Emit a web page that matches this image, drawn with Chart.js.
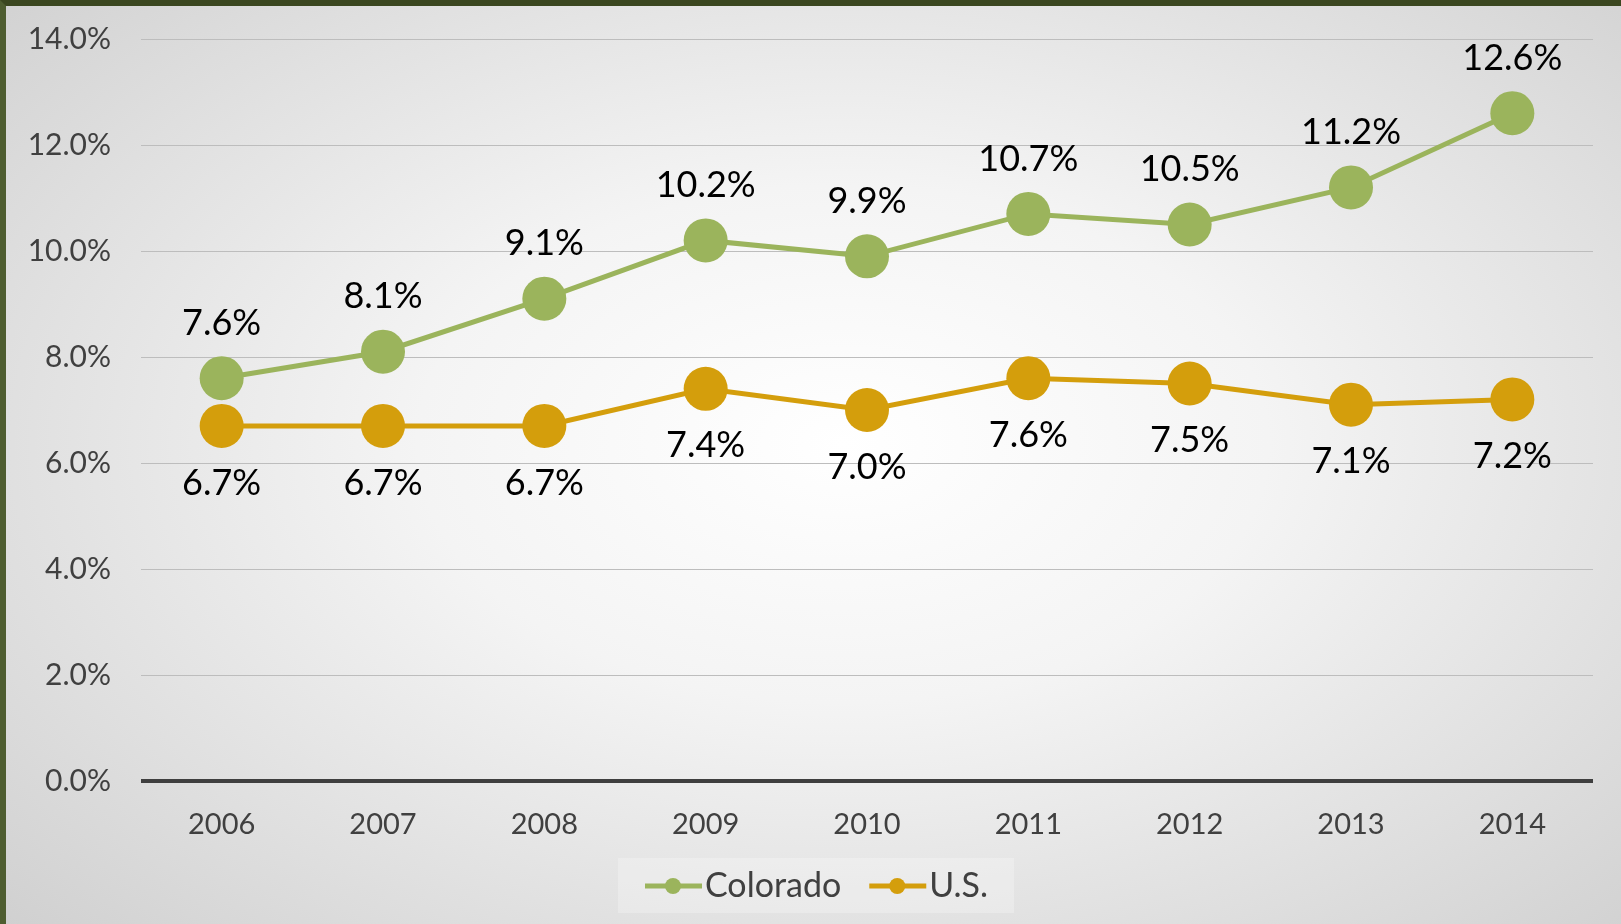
<!DOCTYPE html>
<html>
<head>
<meta charset="utf-8">
<script src="https://cdn.jsdelivr.net/npm/chart.js@4.4.1/dist/chart.umd.min.js"></script>
<style>
    html, body { margin: 0; padding: 0; width: 1621px; height: 924px; overflow: hidden; }
    body {
        box-sizing: border-box;
        border-top: 6px solid #3b4720;
        border-left: 6px solid #4e5d30;
        background: radial-gradient(ellipse 75% 80% at 52% 48%, #ffffff 0%, #f4f4f4 35%, #dcdcdc 75%, #cdcdcd 100%);
    }
    #grafico { position: absolute; left: 0; top: 0; }
</style>
</head>
<body>
<canvas id="grafico" width="1621" height="924"></canvas>
<script>
const anos = ['2006', '2007', '2008', '2009', '2010', '2011', '2012', '2013', '2014'];
const colorado = [7.6, 8.1, 9.1, 10.2, 9.9, 10.7, 10.5, 11.2, 12.6];
const eua = [6.7, 6.7, 6.7, 7.4, 7.0, 7.6, 7.5, 7.1, 7.2];
const ticksY = [0, 2, 4, 6, 8, 10, 12, 14];

const fonte = 'Lato, "Open Sans", sans-serif';

// rotulos dos pontos: Colorado em cima, U.S. embaixo
const rotulos = {
    id: 'rotulos',
    afterDatasetsDraw(chart) {
        const ctx = chart.ctx;
        ctx.save();
        ctx.font = '36px ' + fonte;
        ctx.fillStyle = '#000000';
        ctx.textAlign = 'center';
        ctx.textBaseline = 'middle';
        chart.data.datasets.forEach(function (ds, i) {
            const meta = chart.getDatasetMeta(i);
            meta.data.forEach(function (pt, j) {
                const dy = i == 0 ? -55 : 57;
                ctx.fillText(ds.data[j].toFixed(1) + '%', pt.x, pt.y + dy);
            });
        });
        ctx.restore();
    },
    afterDraw(chart) {
        // legenda desenhada na parte de baixo
        const ctx = chart.ctx;
        ctx.save();
        ctx.fillStyle = 'rgba(255,255,255,0.25)';
        ctx.fillRect(618, 858, 396, 55);
        ctx.font = '34px ' + fonte;
        ctx.textBaseline = 'middle';
        ctx.textAlign = 'left';
        let x = 645;
        const y = 886;
        chart.data.datasets.forEach(function (ds) {
            ctx.strokeStyle = ds.borderColor;
            ctx.lineWidth = 5;
            ctx.beginPath();
            ctx.moveTo(x, y);
            ctx.lineTo(x + 57, y);
            ctx.stroke();
            ctx.fillStyle = ds.backgroundColor;
            ctx.beginPath();
            ctx.arc(x + 28, y, 8, 0, Math.PI * 2);
            ctx.fill();
            ctx.fillStyle = '#404040';
            ctx.fillText(ds.label, x + 60, y);
            x += 60 + ctx.measureText(ds.label).width + 28;
        });
        ctx.restore();
    }
};

new Chart(document.getElementById('grafico'), {
    type: 'line',
    data: {
        labels: anos,
        datasets: [{
            label: 'Colorado',
            data: colorado,
            borderColor: '#9bb45c',
            backgroundColor: '#9bb45c',
            borderWidth: 5,
            pointRadius: 22,
            pointHoverRadius: 22,
            pointBorderWidth: 0
        }, {
            label: 'U.S.',
            data: eua,
            borderColor: '#d49e0c',
            backgroundColor: '#d49e0c',
            borderWidth: 5,
            pointRadius: 22,
            pointHoverRadius: 22,
            pointBorderWidth: 0
        }]
    },
    options: {
        responsive: false,
        animation: false,
        devicePixelRatio: 1,
        layout: { padding: { top: 39, right: 28, left: 0, bottom: 0 } },
        plugins: {
            legend: { display: false },
            tooltip: { enabled: false }
        },
        scales: {
            x: {
                offset: true,
                afterFit: function (s) { s.height = 143; },
                grid: { display: false, drawTicks: false },
                border: { display: false },
                ticks: { color: '#404040', font: { size: 29, family: fonte }, padding: 26 }
            },
            y: {
                min: 0,
                max: 14,
                afterFit: function (s) {
                    s.width = 141;
                    s.paddingTop = 0;
                    s.paddingBottom = 0;
                },
                afterBuildTicks: function (s) { s.ticks = ticksY.map(v => ({ value: v })); },
                grid: {
                    drawTicks: false,
                    color: function (c) { return c.tick.value == 0 ? '#3f3f3f' : '#bdbdbd'; },
                    lineWidth: function (c) { return c.tick.value == 0 ? 4 : 1; }
                },
                border: { display: false },
                ticks: {
                    color: '#404040',
                    font: { size: 30, family: fonte },
                    padding: 30,
                    callback: function (v) { return v.toFixed(1) + '%'; }
                }
            }
        }
    },
    plugins: [rotulos]
});
</script>
</body>
</html>
